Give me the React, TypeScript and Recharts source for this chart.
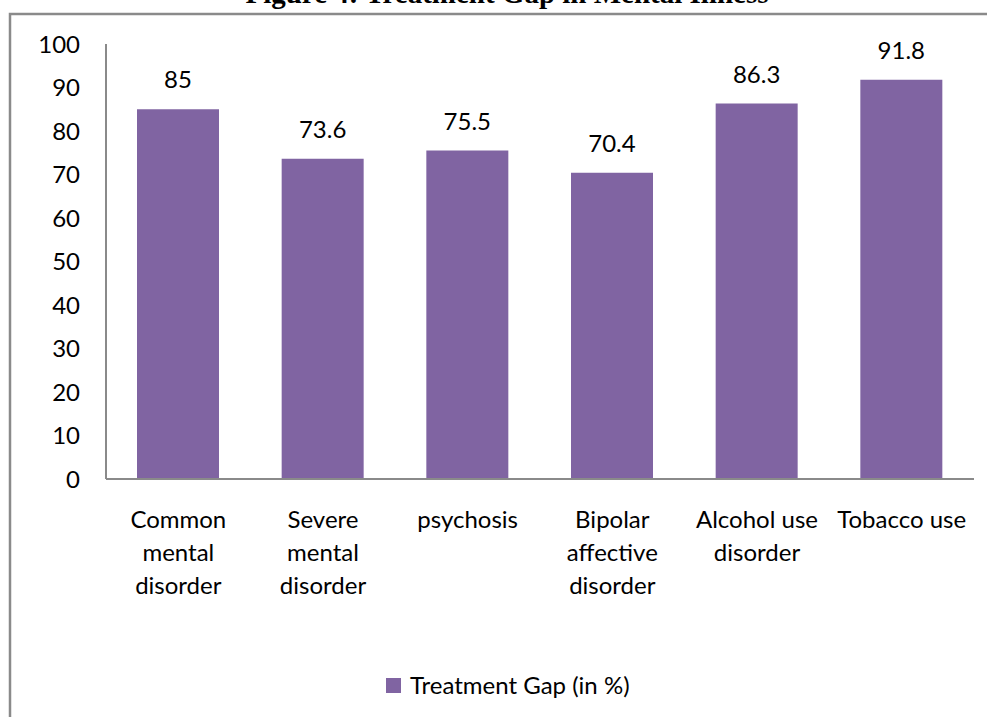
import React from 'react'
import { BarChart, Bar, XAxis, YAxis, LabelList } from 'recharts'

// ── Data ─────────────────────────────────────────────────────────────────────
const CATEGORIES = [
  'Common\nmental\ndisorder',
  'Severe\nmental\ndisorder',
  'psychosis',
  'Bipolar\naffective\ndisorder',
  'Alcohol use\ndisorder',
  'Tobacco use',
]
const TREATMENT_GAP = [85, 73.6, 75.5, 70.4, 86.3, 91.8]
const Y_TICKS = [0, 10, 20, 30, 40, 50, 60, 70, 80, 90, 100]
const SERIES_NAME = 'Treatment Gap (in %)'
const TITLE = 'Figure 4: Treatment Gap in Mental Illness'

const data = CATEGORIES.map((c, i) => ({ name: c, value: TREATMENT_GAP[i] }))

// ── Styling ──────────────────────────────────────────────────────────────────
const W = 987
const H = 717
const PURPLE = '#8064A2'
const AXIS = '#8a8a8a'
const FONT = 'Lato, "Open Sans", sans-serif'
const FS = 24

const CategoryTick = (props: any) => {
  const { x, y, payload } = props
  const lines = String(payload.value).split('\n')
  return (
    <text x={x} y={y} textAnchor="middle" fontFamily={FONT} fontSize={FS} fill="#000">
      {lines.map((l, i) => (
        <tspan key={i} x={x} dy={i === 0 ? 49 : 33}>
          {l}
        </tspan>
      ))}
    </text>
  )
}

const ValueLabel = (props: any) => {
  const { x, y, width, value } = props
  return (
    <text x={x + width / 2} y={y - 21} textAnchor="middle" fontFamily={FONT} fontSize={FS} fill="#000">
      {value}
    </text>
  )
}

export default function App() {
  return (
    <div style={{ position: 'absolute', left: 0, top: 0, width: W, height: H, overflow: 'hidden', background: '#fff' }}>
      <BarChart width={W} height={H} data={data} margin={{ top: 44, right: 13, left: 0, bottom: 208 }}>
        <XAxis
          dataKey="name"
          interval={0}
          tickLine={false}
          tickSize={0}
          tickMargin={0}
          axisLine={{ stroke: AXIS, strokeWidth: 2 }}
          tick={<CategoryTick />}
        />
        <YAxis
          width={106}
          domain={[0, 100]}
          ticks={Y_TICKS}
          interval={0}
          tickLine={false}
          tickSize={0}
          tickMargin={26}
          axisLine={{ stroke: AXIS, strokeWidth: 2 }}
          tick={{ fill: '#000', fontFamily: FONT, fontSize: FS }}
        />
        <Bar dataKey="value" name={SERIES_NAME} fill={PURPLE} barSize={82} isAnimationActive={false}>
          <LabelList dataKey="value" content={<ValueLabel />} />
        </Bar>
      </BarChart>
      {/* legend */}
      <div
        style={{
          position: 'absolute', left: 386, top: 671, display: 'flex', alignItems: 'center',
          fontFamily: FONT, fontSize: FS, color: '#000', lineHeight: '28px',
        }}
      >
        <span style={{ width: 15, height: 15, background: PURPLE, display: 'inline-block', marginRight: 9 }} />
        <span>{SERIES_NAME}</span>
      </div>
      {/* page frame and the clipped caption above it */}
      <svg width={W} height={H} style={{ position: 'absolute', left: 0, top: 0, pointerEvents: 'none' }}>
        <text x={507} y={3} textAnchor="middle" fontFamily='"Liberation Serif", serif' fontWeight="bold" fontSize={29} fill="#000">
          {TITLE}
        </text>
        <path d={`M10,${H} V14 H${W}`} fill="none" stroke={AXIS} strokeWidth={2.5} />
      </svg>
    </div>
  )
}
